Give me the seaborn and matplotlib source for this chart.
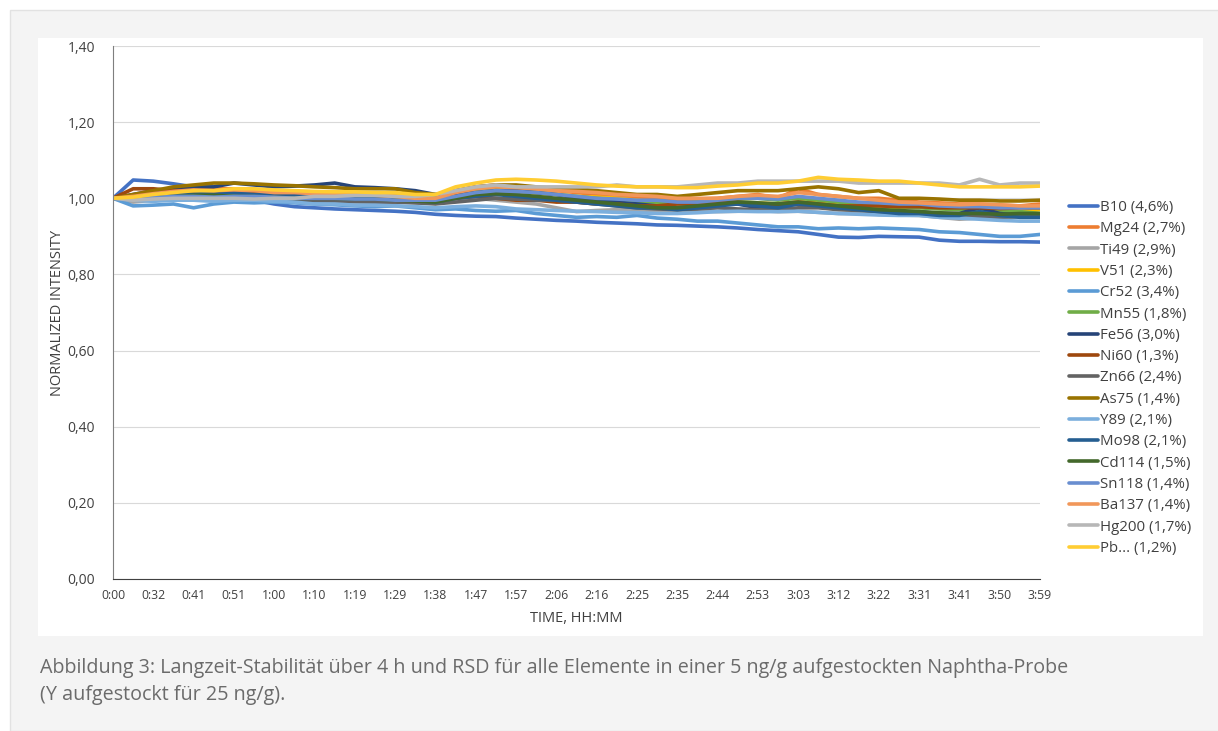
import numpy as np
import pandas as pd
import matplotlib.pyplot as plt
import seaborn as sns
from matplotlib.patches import Rectangle

sns.set_style("white")
plt.rcParams['font.family'] = ['Open Sans', 'DejaVu Sans']

# tick labels (every second sample point)
time_labels = ['0:00', '0:32', '0:41', '0:51', '1:00', '1:10', '1:19', '1:29',
               '1:38', '1:47', '1:57', '2:06', '2:16', '2:25', '2:35', '2:44',
               '2:53', '3:03', '3:12', '3:22', '3:31', '3:41', '3:50', '3:59']

elements = ['B10 (4,6%)', 'Mg24 (2,7%)', 'Ti49 (2,9%)', 'V51 (2,3%)', 'Cr52 (3,4%)',
            'Mn55 (1,8%)', 'Fe56 (3,0%)', 'Ni60 (1,3%)', 'Zn66 (2,4%)', 'As75 (1,4%)',
            'Y89 (2,1%)', 'Mo98 (2,1%)', 'Cd114 (1,5%)', 'Sn118 (1,4%)', 'Ba137 (1,4%)',
            'Hg200 (1,7%)', 'Pb... (1,2%)']

colors = ['#4472C4', '#ED7D31', '#A5A5A5', '#FFC000', '#5B9BD5', '#70AD47', '#264478',
          '#9E480E', '#636363', '#997300', '#7CAFDD', '#255E91', '#43682B', '#698ED0',
          '#F1975A', '#B7B7B7', '#FFCD33']

b10 = [1.000, 1.048, 1.045, 1.038, 1.030, 1.020, 1.005, 0.995, 0.985, 0.978, 0.975, 0.972,
       0.970, 0.968, 0.966, 0.963, 0.958, 0.955, 0.953, 0.952, 0.948, 0.945, 0.942, 0.940,
       0.937, 0.935, 0.933, 0.930, 0.929, 0.927, 0.925, 0.922, 0.918, 0.915, 0.912, 0.905,
       0.898, 0.897, 0.900, 0.899, 0.898, 0.890, 0.887, 0.887, 0.886, 0.886, 0.885]
mg24 = [1.000, 1.005, 1.010, 1.015, 1.020, 1.025, 1.025, 1.020, 1.020, 1.018, 1.015, 1.015,
        1.012, 1.010, 1.010, 1.005, 1.005, 1.020, 1.030, 1.035, 1.030, 1.025, 1.020, 1.015,
        1.010, 1.005, 1.000, 1.000, 0.995, 0.998, 1.000, 1.005, 1.010, 1.000, 1.025, 1.010,
        1.005, 1.000, 1.000, 0.995, 0.990, 0.988, 0.985, 0.985, 0.982, 0.980, 0.985]
ti49 = [1.000, 0.990, 0.995, 0.995, 1.000, 0.995, 0.995, 0.990, 0.990, 0.992, 0.990, 0.990,
        0.988, 0.990, 0.990, 0.988, 0.990, 0.995, 1.000, 0.995, 0.990, 0.985, 0.975, 0.965,
        0.968, 0.970, 0.968, 0.965, 0.965, 0.966, 0.965, 0.966, 0.968, 0.965, 0.966, 0.963,
        0.960, 0.960, 0.958, 0.956, 0.955, 0.950, 0.945, 0.948, 0.950, 0.953, 0.955]
v51 = [1.000, 1.003, 1.005, 1.008, 1.010, 1.012, 1.012, 1.015, 1.015, 1.012, 1.012, 1.010,
       1.010, 1.008, 1.008, 1.005, 1.005, 1.010, 1.012, 1.015, 1.013, 1.012, 1.010, 1.005,
       1.003, 1.000, 0.995, 0.990, 0.988, 0.985, 0.988, 0.990, 0.988, 0.985, 0.990, 0.990,
       0.985, 0.980, 0.978, 0.975, 0.976, 0.975, 0.972, 0.970, 0.968, 0.965, 0.970]
cr52 = [1.000, 0.980, 0.982, 0.985, 0.975, 0.985, 0.990, 0.988, 0.990, 0.988, 0.985, 0.983,
        0.980, 0.978, 0.980, 0.975, 0.970, 0.972, 0.968, 0.966, 0.968, 0.960, 0.955, 0.950,
        0.952, 0.950, 0.955, 0.948, 0.945, 0.940, 0.940, 0.935, 0.930, 0.925, 0.925, 0.920,
        0.922, 0.920, 0.922, 0.920, 0.918, 0.912, 0.910, 0.905, 0.900, 0.900, 0.905]
mn55 = [1.000, 1.005, 1.008, 1.010, 1.010, 1.012, 1.010, 1.010, 1.008, 1.005, 1.005, 1.005,
        1.003, 1.003, 1.000, 1.000, 1.000, 1.010, 1.020, 1.025, 1.020, 1.015, 1.010, 1.005,
        1.000, 0.995, 0.990, 0.990, 0.985, 0.990, 0.995, 0.998, 1.000, 0.995, 1.000, 0.995,
        0.990, 0.985, 0.980, 0.978, 0.975, 0.972, 0.970, 0.970, 0.965, 0.965, 0.960]
fe56 = [1.000, 1.010, 1.020, 1.025, 1.030, 1.030, 1.040, 1.035, 1.030, 1.032, 1.035, 1.040,
        1.030, 1.028, 1.025, 1.020, 1.010, 1.010, 1.015, 1.020, 1.020, 1.015, 1.010, 1.000,
        0.995, 0.990, 0.985, 0.980, 0.975, 0.980, 0.985, 0.985, 0.975, 0.980, 0.985, 0.980,
        0.975, 0.970, 0.970, 0.965, 0.965, 0.960, 0.960, 0.975, 0.960, 0.955, 0.955]
ni60 = [1.000, 1.025, 1.025, 1.020, 1.020, 1.020, 1.015, 1.015, 1.010, 1.010, 1.010, 1.008,
        1.005, 1.005, 1.000, 1.000, 0.995, 1.000, 1.005, 1.000, 0.995, 0.995, 0.990, 0.990,
        0.985, 0.985, 0.980, 0.980, 0.985, 0.985, 0.990, 0.990, 0.985, 0.985, 0.990, 0.985,
        0.980, 0.980, 0.980, 0.978, 0.978, 0.975, 0.975, 0.975, 0.973, 0.975, 0.975]
zn66 = [1.000, 0.998, 1.000, 1.000, 1.002, 1.000, 1.000, 0.998, 0.998, 0.995, 0.995, 0.993,
        0.992, 0.990, 0.990, 0.988, 0.985, 0.990, 0.995, 1.000, 0.998, 0.995, 0.995, 0.990,
        0.985, 0.980, 0.975, 0.972, 0.970, 0.972, 0.975, 0.972, 0.970, 0.970, 0.975, 0.975,
        0.970, 0.968, 0.965, 0.962, 0.960, 0.958, 0.955, 0.952, 0.950, 0.952, 0.955]
as75 = [1.000, 1.010, 1.020, 1.030, 1.035, 1.040, 1.040, 1.038, 1.035, 1.033, 1.030, 1.028,
        1.025, 1.025, 1.025, 1.015, 1.010, 1.020, 1.030, 1.035, 1.035, 1.030, 1.025, 1.025,
        1.020, 1.015, 1.010, 1.010, 1.005, 1.010, 1.015, 1.020, 1.020, 1.020, 1.025, 1.030,
        1.025, 1.015, 1.020, 1.000, 1.000, 0.998, 0.995, 0.995, 0.993, 0.993, 0.995]
y89 = [1.000, 0.995, 0.992, 0.995, 0.995, 0.992, 0.995, 0.995, 0.992, 0.990, 0.985, 0.985,
       0.982, 0.982, 0.980, 0.978, 0.975, 0.978, 0.980, 0.978, 0.972, 0.970, 0.968, 0.966,
       0.965, 0.963, 0.962, 0.960, 0.960, 0.962, 0.965, 0.966, 0.965, 0.965, 0.966, 0.963,
       0.960, 0.958, 0.956, 0.955, 0.955, 0.950, 0.948, 0.945, 0.942, 0.940, 0.940]
mo98 = [1.000, 1.000, 1.005, 1.010, 1.010, 1.015, 1.015, 1.010, 1.010, 1.010, 1.005, 1.005,
        1.000, 1.000, 1.000, 0.995, 0.990, 1.000, 1.005, 1.010, 1.005, 1.000, 0.995, 0.990,
        0.985, 0.980, 0.975, 0.975, 0.970, 0.975, 0.980, 0.985, 0.980, 0.975, 0.985, 0.980,
        0.975, 0.970, 0.965, 0.960, 0.960, 0.955, 0.955, 0.965, 0.955, 0.950, 0.950]
cd114 = [1.000, 1.000, 1.005, 1.005, 1.008, 1.008, 1.005, 1.005, 1.003, 1.000, 1.000, 1.000,
         0.998, 0.998, 0.995, 0.993, 0.990, 1.000, 1.010, 1.012, 1.010, 1.005, 1.000, 0.995,
         0.990, 0.985, 0.980, 0.975, 0.975, 0.980, 0.985, 0.990, 0.988, 0.985, 0.990, 0.985,
         0.980, 0.975, 0.970, 0.968, 0.965, 0.962, 0.960, 0.960, 0.958, 0.960, 0.960]
sn118 = [1.000, 1.000, 1.002, 1.005, 1.005, 1.003, 1.005, 1.005, 1.003, 1.000, 1.000, 1.000,
         0.998, 0.998, 0.995, 0.995, 0.995, 1.005, 1.015, 1.020, 1.018, 1.015, 1.010, 1.005,
         1.000, 0.998, 0.995, 0.995, 0.990, 0.990, 0.995, 1.000, 1.000, 0.998, 1.005, 1.000,
         0.995, 0.990, 0.988, 0.985, 0.985, 0.980, 0.978, 0.978, 0.975, 0.975, 0.975]
ba137 = [1.000, 1.005, 1.012, 1.018, 1.022, 1.020, 1.022, 1.020, 1.015, 1.015, 1.012, 1.010,
         1.010, 1.008, 1.005, 1.000, 1.000, 1.015, 1.025, 1.030, 1.028, 1.025, 1.020, 1.018,
         1.015, 1.010, 1.008, 1.005, 1.000, 1.000, 1.000, 1.005, 1.008, 1.005, 1.015, 1.010,
         1.005, 1.000, 0.995, 0.990, 0.988, 0.985, 0.983, 0.985, 0.983, 0.980, 0.980]
hg200 = [1.000, 0.995, 0.998, 1.000, 1.000, 1.000, 1.000, 0.998, 1.000, 1.000, 1.005, 1.005,
         1.008, 1.008, 1.005, 1.005, 1.010, 1.020, 1.030, 1.035, 1.030, 1.030, 1.030, 1.030,
         1.030, 1.035, 1.030, 1.030, 1.030, 1.035, 1.040, 1.040, 1.045, 1.045, 1.045, 1.045,
         1.045, 1.040, 1.040, 1.040, 1.040, 1.040, 1.035, 1.050, 1.035, 1.040, 1.040]
pb = [1.000, 1.003, 1.010, 1.015, 1.020, 1.020, 1.025, 1.025, 1.022, 1.020, 1.018, 1.017,
      1.017, 1.015, 1.015, 1.010, 1.010, 1.030, 1.040, 1.048, 1.050, 1.048, 1.045, 1.040,
      1.035, 1.032, 1.030, 1.030, 1.028, 1.028, 1.032, 1.035, 1.040, 1.040, 1.045, 1.055,
      1.050, 1.048, 1.045, 1.045, 1.040, 1.035, 1.030, 1.030, 1.030, 1.030, 1.032]

series = [b10, mg24, ti49, v51, cr52, mn55, fe56, ni60, zn66, as75,
          y89, mo98, cd114, sn118, ba137, hg200, pb]

rows = []
for name, vals in zip(elements, series):
    for i, v in enumerate(vals):
        rows.append({'point': i, 'value': v, 'element': name})
df = pd.DataFrame(rows)

fig = plt.figure(figsize=(12.18, 7.31), dpi=100, facecolor='white')
# page background and white chart panel
fig.patches.append(Rectangle((10 / 1218, 0), 1, 1 - 10 / 731, transform=fig.transFigure,
                             facecolor='#f4f4f4', edgecolor='#e2e2e2', lw=1, zorder=-2))
fig.patches.append(Rectangle((38 / 1218, 1 - 636 / 731), (1203 - 38) / 1218, (636 - 38) / 731,
                             transform=fig.transFigure, facecolor='white',
                             edgecolor='none', zorder=-1))

ax = fig.add_axes([113 / 1218, 1 - 579 / 731, (1040 - 113) / 1218, (579 - 46) / 731])
ax.set_facecolor('none')

sns.lineplot(data=df, x='point', y='value', hue='element', hue_order=elements,
             palette=colors, linewidth=2.6, sort=False, ax=ax, legend=True)

n = len(b10)
ax.set_xlim(0, n - 1)
ax.set_ylim(0, 1.4)
ax.set_xticks(range(0, n, 2))
ax.set_xticklabels(time_labels)
yt = np.arange(0, 1.41, 0.2)
ax.set_yticks(yt)
ax.set_yticklabels([f'{t:.2f}'.replace('.', ',') for t in yt])
ax.yaxis.grid(True, color='#d9d9d9', lw=0.8)
ax.set_axisbelow(True)
for s in ['top', 'right']:
    ax.spines[s].set_visible(False)
ax.spines['left'].set_color('#7f7f7f')
ax.spines['bottom'].set_color('#404040')
ax.tick_params(axis='x', direction='inout', length=7, width=0.8, color='#404040',
               labelsize=8.8, labelcolor='#404040', pad=4)
ax.tick_params(axis='y', direction='out', length=5, width=0.8, color='#7f7f7f',
               labelsize=10, labelcolor='#404040', pad=8)
ax.set_xlabel('TIME, HH:MM', fontsize=10.5, color='#404040', labelpad=6)
ax.set_ylabel('NORMALIZED INTENSITY', fontsize=10.5, color='#404040', labelpad=2)

handles, labels = ax.get_legend_handles_labels()
leg = ax.legend(handles, labels, loc='center left', bbox_to_anchor=(1069 / 1218, 1 - 378 / 731),
                bbox_transform=fig.transFigure, frameon=False, fontsize=10.8,
                handlelength=1.9, handletextpad=0.15, labelspacing=0.42,
                borderpad=0, borderaxespad=0)
for t in leg.get_texts():
    t.set_color('#404040')

fig.text(40 / 1218, 1 - 668 / 731,
         'Abbildung 3: Langzeit-Stabilität über 4 h und RSD für alle Elemente in einer 5 ng/g aufgestockten Naphtha-Probe',
         fontsize=14.2, color='#6b6b6b', va='center', ha='left')
fig.text(40 / 1218, 1 - 695 / 731, '(Y aufgestockt für 25 ng/g).',
         fontsize=14.2, color='#6b6b6b', va='center', ha='left')

fig.savefig('out.png', dpi=100, facecolor=fig.get_facecolor())
